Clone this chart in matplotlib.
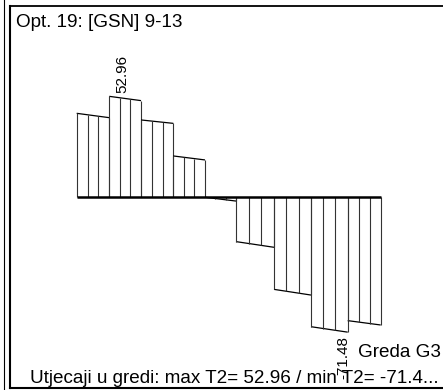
import matplotlib
matplotlib.use("Agg")
import matplotlib.pyplot as plt
import numpy as np
from matplotlib.lines import Line2D

plt.rcParams['font.family'] = ['Liberation Sans', 'DejaVu Sans']

# stations along the beam (m), one segment between each pair
stations = [0.0, 3.26, 6.43, 9.66, 12.83, 15.93, 19.73, 23.43, 27.10, 30.40]
# shear force T2 (kN) at the start and end of each segment
t2_start = [44.0, 52.96, 40.5, 21.5, -0.3, -23.7, -48.9, -68.6, -65.4]
t2_end = [41.7, 50.7, 38.7, 19.4, -2.3, -26.7, -51.9, -71.48, -67.7]
n_hatch = 3  # hatch divisions per segment

title = "Opt. 19: [GSN] 9-13"
beam_name = "Greda G3"
t_max = max(t2_start + t2_end)
t_min = min(t2_start + t2_end)
footer = f"Utjecaji u gredi: max T2= {t_max:.2f} / min T2= -71.4..."

W, H = 443, 390
fig = plt.figure(figsize=(W / 100, H / 100), dpi=100)
ax = fig.add_axes([0, 0, 1, 1])
ax.axis('off')

# pixel layout of the beam: origin and scales
x0_px, x_scale = 76.7, 10.0      # px per m
y0_px, y_scale = 196.7, 1.895    # px per kN
ax.set_xlim(-x0_px / x_scale, (W - x0_px) / x_scale)
ax.set_ylim((y0_px - H) / y_scale, y0_px / y_scale)

# diagram
for i in range(len(t2_start)):
    xa, xb = stations[i], stations[i + 1]
    va, vb = t2_start[i], t2_end[i]
    ax.plot([xa, xb], [va, vb], color='black', lw=0.9, solid_capstyle='butt')
    xs = np.linspace(xa, xb, n_hatch + 1)
    hs = np.interp(xs, [xa, xb], [va, vb])
    ax.vlines(xs, 0, hs, color='#333333', lw=0.8)

# beam axis
ax.plot([stations[0], stations[-1]], [0, 0], color='black', lw=1.8,
        solid_capstyle='butt', zorder=5)

# extreme value labels
i_max = int(np.argmax(t2_start))
ax.text(stations[i_max] + 1.3, t_max + 1.8, f"{t_max:.2f}", rotation=90,
        ha='center', va='bottom', fontsize=11)
i_min = int(np.argmin(t2_end))
ax.text(stations[i_min + 1] - 0.45, t_min - 2.0, f"{t_min:.2f}", rotation=90,
        ha='center', va='top', fontsize=11)

# frame
def px_line(xs, ys, lw):
    fig.add_artist(Line2D([x / W for x in xs], [1 - y / H for y in ys],
                          transform=fig.transFigure, color='black', lw=lw))

px_line([4, 4], [0, H], 0.8)
px_line([9.5, 9.5], [6, 387.5], 1.5)
px_line([9.5, W], [6, 6], 1.3)
px_line([9.5, W], [387.5, 387.5], 1.5)

fig.text(16 / W, 1 - 26.7 / H, title, fontsize=13.6, ha='left', va='baseline')
fig.text(441 / W, 1 - 356.7 / H, beam_name, fontsize=13.6, ha='right', va='baseline')
fig.text(30 / W, 1 - 382.7 / H, footer, fontsize=13.6, ha='left', va='baseline')

fig.savefig("out.png", dpi=100)
